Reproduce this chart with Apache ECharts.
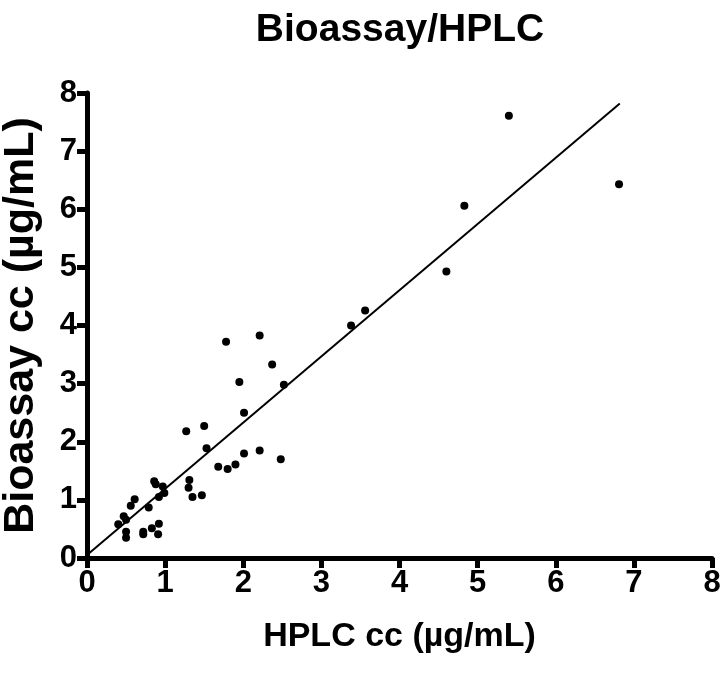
<!DOCTYPE html>
<html>
<head>
<meta charset="utf-8">
<script src="https://cdn.jsdelivr.net/npm/echarts@6/dist/echarts.min.js"></script>
<style>
  html, body { margin: 0; padding: 0; background: #fff; }
  #chart { width: 720px; height: 680px; }
</style>
</head>
<body>
<div id="chart"></div>
<script>
  // HPLC (x) vs Bioassay (y), ug/mL
  const hplc = [0.40, 0.47, 0.50, 0.50, 0.50, 0.56, 0.61, 0.72, 0.72, 0.79,
    0.83, 0.86, 0.88, 0.91, 0.92, 0.92, 0.97, 0.99, 1.31, 1.30,
    1.35, 1.47, 1.27, 1.50, 1.53, 1.68, 1.80, 1.90, 2.01, 2.21,
    2.48, 2.01, 1.95, 2.52, 2.37, 1.78, 2.21, 3.38, 3.56, 4.60,
    4.83, 5.40, 6.81]
  const bioassay = [0.58, 0.72, 0.66, 0.45, 0.35, 0.90, 1.01, 0.45, 0.41, 0.87,
    0.51, 1.32, 1.27, 0.41, 0.59, 1.05, 1.23, 1.12, 1.34, 1.21,
    1.05, 1.08, 2.18, 2.27, 1.89, 1.57, 1.53, 1.61, 1.80, 1.85,
    1.70, 2.50, 3.03, 2.98, 3.33, 3.72, 3.83, 4.00, 4.26, 4.93,
    6.06, 7.61, 6.43]
  // regression line end points
  const fitX = [0, 6.82]
  const fitY = [0.05, 7.82]
  const ticks = [0, 1, 2, 3, 4, 5, 6, 7, 8]

  const points = hplc.map((x, i) => [x, bioassay[i]])
  const fit = fitX.map((x, i) => [x, fitY[i]])

  const axisCommon = {
    min: ticks[0],
    max: ticks[ticks.length - 1],
    interval: 1,
    nameLocation: 'middle',
    axisLine: { show: true, lineStyle: { color: '#000', width: 5 } },
    axisTick: { show: true, length: 10, lineStyle: { color: '#000', width: 5 } },
    axisLabel: {
      fontFamily: '"Liberation Sans Narrow", "Liberation Sans"',
      fontWeight: 'bold', fontSize: 31, color: '#000', margin: 10
    },
    splitLine: { show: false }
  }

  const chart = echarts.init(document.getElementById('chart'))
  chart.setOption({
    animation: false,
    title: {
      text: 'Bioassay/HPLC',
      left: 395,
      textAlign: 'center',
      top: 6,
      textStyle: { fontFamily: 'Liberation Sans', fontWeight: 'bold', fontSize: 39, color: '#000' }
    },
    grid: { left: 87, right: 8, top: 93, bottom: 122, outerBoundsMode: 'none' },
    xAxis: Object.assign({}, axisCommon, {
      type: 'value',
      name: 'HPLC cc (µg/mL)',
      nameGap: 62,
      nameTextStyle: { fontFamily: 'Liberation Sans', fontWeight: 'bold', fontSize: 34, color: '#000' }
    }),
    yAxis: Object.assign({}, axisCommon, {
      type: 'value',
      name: 'Bioassay cc (µg/mL)',
      nameGap: 44,
      nameTextStyle: { fontFamily: 'Liberation Sans', fontWeight: 'bold', fontSize: 43, color: '#000' }
    }),
    series: [
      {
        type: 'scatter',
        data: points,
        symbol: 'circle',
        symbolSize: 8,
        itemStyle: { color: '#000', opacity: 1 }
      },
      {
        type: 'line',
        data: fit,
        showSymbol: false,
        lineStyle: { color: '#000', width: 2 }
      }
    ]
  })
</script>
</body>
</html>
